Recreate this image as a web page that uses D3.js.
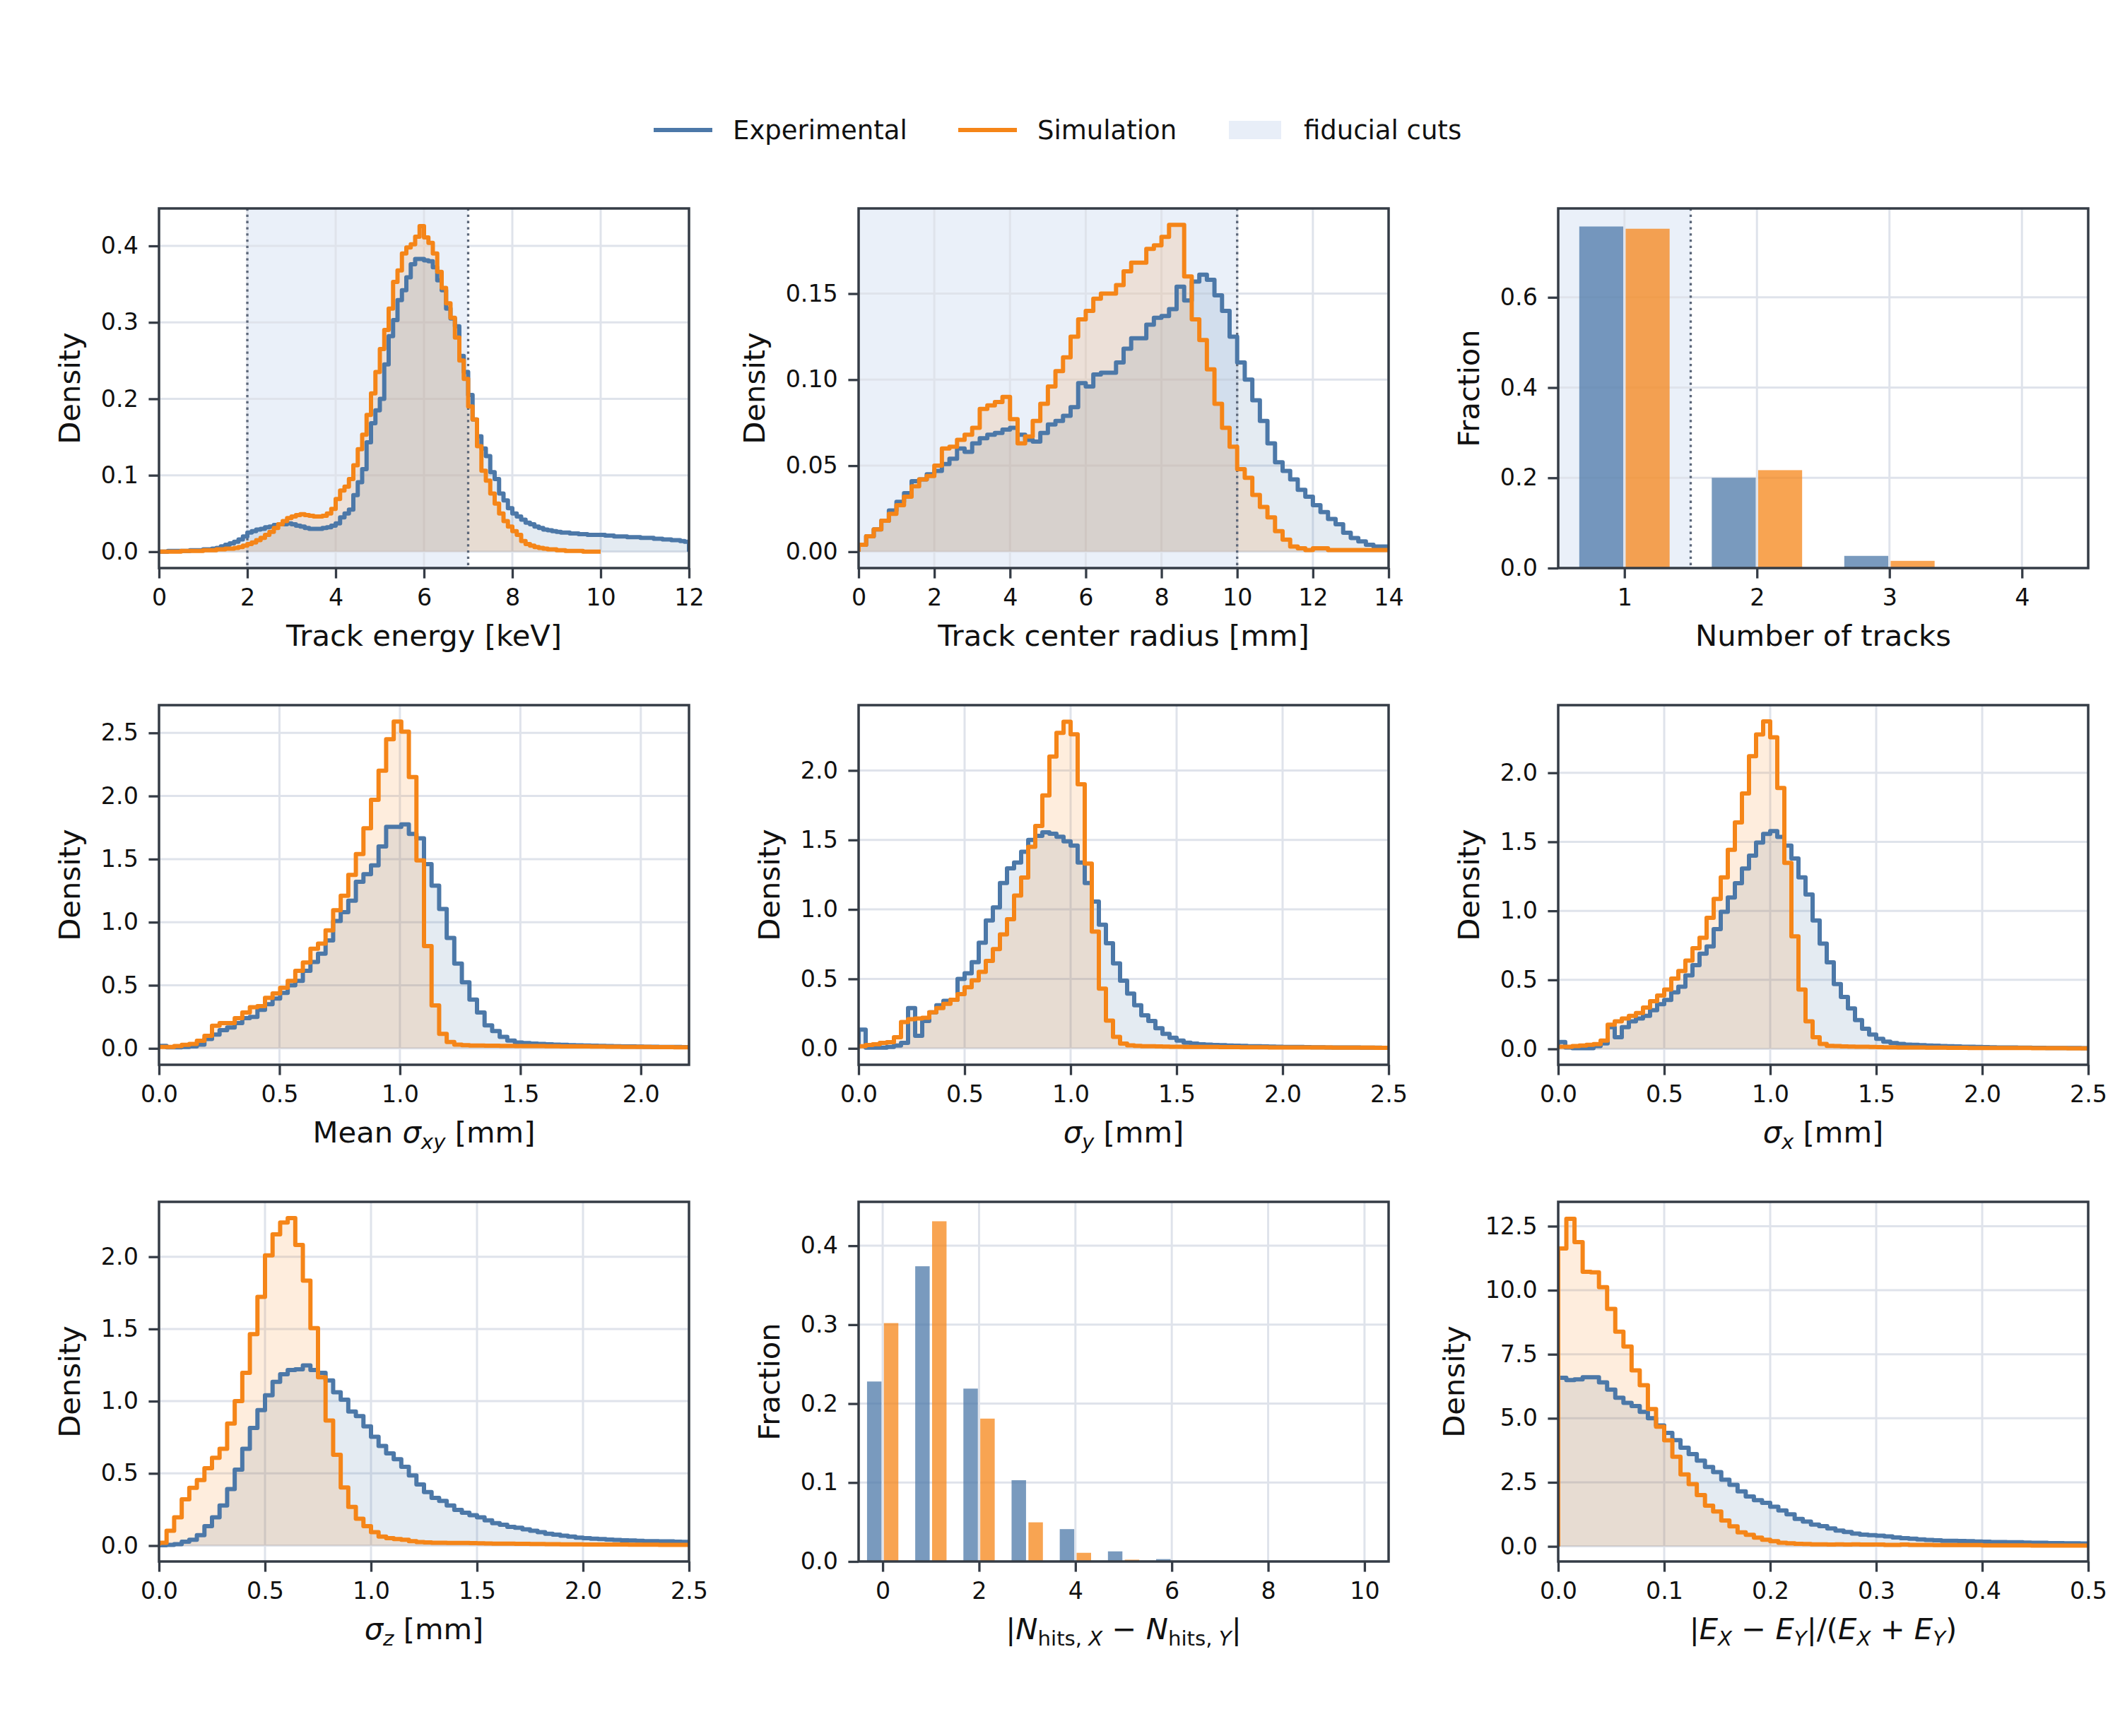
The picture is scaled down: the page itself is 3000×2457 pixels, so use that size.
<!DOCTYPE html>
<html><head><meta charset="utf-8">
<script src="https://cdn.jsdelivr.net/npm/d3@7"></script>
<style>body{margin:0;background:#fff}text{font-family:"DejaVu Sans",sans-serif}</style>
</head><body><script>
// ---------------- DATA ----------------
const seriesNames = ["Experimental", "Simulation", "fiducial cuts"];

// Panel 1: Track energy [keV]
const energyTicksX = [0,2,4,6,8,10,12];
const energyTicksY = [0,0.1,0.2,0.3,0.4];
const energyExp = [
0.000,0.000,0.001,0.001,0.001,0.001,0.001,0.002,0.002,0.002,
0.003,0.003,0.004,0.005,0.007,0.009,0.011,0.013,0.016,0.020,
0.025,0.027,0.029,0.030,0.032,0.033,0.035,0.036,0.036,0.037,
0.036,0.034,0.033,0.031,0.030,0.030,0.030,0.031,0.032,0.034,
0.037,0.045,0.050,0.055,0.074,0.091,0.108,0.143,0.168,0.185,
0.200,0.245,0.282,0.303,0.329,0.342,0.359,0.376,0.383,0.383,
0.381,0.380,0.372,0.355,0.342,0.318,0.305,0.295,0.256,0.235,
0.205,0.173,0.151,0.135,0.125,0.104,0.095,0.076,0.067,0.057,
0.050,0.046,0.042,0.038,0.036,0.033,0.031,0.029,0.028,0.027,
0.026,0.025,0.025,0.024,0.024,0.023,0.023,0.022,0.022,0.022,
0.022,0.021,0.021,0.020,0.020,0.020,0.019,0.019,0.019,0.018,
0.018,0.018,0.017,0.017,0.016,0.016,0.015,0.015,0.014,0.013];
const energySim = [
0.000,0.000,0.000,0.000,0.000,0.001,0.001,0.001,0.001,0.001,
0.002,0.002,0.002,0.003,0.003,0.004,0.004,0.005,0.006,0.008,
0.010,0.012,0.015,0.018,0.022,0.026,0.031,0.036,0.040,0.044,
0.046,0.048,0.049,0.048,0.047,0.046,0.046,0.047,0.050,0.056,
0.069,0.080,0.085,0.095,0.113,0.134,0.153,0.179,0.207,0.235,
0.265,0.290,0.318,0.353,0.368,0.390,0.398,0.402,0.412,0.426,
0.411,0.404,0.390,0.366,0.345,0.325,0.306,0.280,0.250,0.226,
0.190,0.173,0.138,0.106,0.093,0.076,0.063,0.050,0.040,0.033,
0.027,0.022,0.014,0.010,0.008,0.006,0.005,0.004,0.003,0.003,
0.002,0.002,0.001,0.001,0.001,0.001,0.000,0.000,0.000,0.000];

// Panel 2: Track center radius [mm]
const radiusTicksX = [0,2,4,6,8,10,12,14];
const radiusTicksY = [0,0.05,0.10,0.15];
const radiusExp = [
0.004,0.009,0.013,0.018,0.024,0.029,0.034,0.041,0.042,0.045,
0.047,0.051,0.054,0.060,0.058,0.063,0.066,0.068,0.069,0.071,
0.072,0.068,0.065,0.064,0.069,0.074,0.076,0.079,0.084,0.098,
0.096,0.103,0.104,0.104,0.110,0.118,0.124,0.124,0.132,0.136,
0.137,0.141,0.154,0.146,0.157,0.161,0.158,0.149,0.140,0.125,
0.110,0.100,0.088,0.076,0.063,0.052,0.047,0.042,0.036,0.032,
0.027,0.023,0.019,0.016,0.011,0.008,0.006,0.004,0.003,0.003];
const radiusSim = [
0.004,0.009,0.013,0.018,0.022,0.027,0.032,0.038,0.042,0.044,
0.050,0.060,0.061,0.065,0.068,0.072,0.083,0.085,0.087,0.090,
0.077,0.063,0.067,0.076,0.086,0.096,0.105,0.113,0.125,0.135,
0.140,0.147,0.150,0.150,0.155,0.163,0.168,0.168,0.176,0.178,
0.183,0.190,0.190,0.160,0.135,0.123,0.106,0.086,0.072,0.061,
0.048,0.043,0.033,0.026,0.020,0.012,0.007,0.003,0.002,0.001,
0.002,0.002,0.001,0.001,0.001,0.001,0.001,0.001,0.001,0.001];

// Panel 3: Number of tracks
const nTracksCats = [1,2,3,4];
const nTracksTicksY = [0,0.2,0.4,0.6];
const nTracksExp = [0.757,0.200,0.027,0.001];
const nTracksSim = [0.752,0.217,0.016,0.0005];

// Panel 4: Mean sigma_xy [mm]
const sigxyTicksX = [0,0.5,1.0,1.5,2.0];
const sigxyTicksY = [0,0.5,1.0,1.5,2.0,2.5];
const sigxyExp = [
0.020,0.008,0.008,0.012,0.016,0.030,0.075,0.110,0.145,0.165,
0.200,0.240,0.250,0.305,0.350,0.395,0.440,0.500,0.535,0.615,
0.685,0.750,0.855,1.010,1.080,1.170,1.320,1.380,1.450,1.600,
1.755,1.755,1.775,1.700,1.665,1.460,1.290,1.105,0.875,0.672,
0.524,0.387,0.285,0.182,0.137,0.091,0.062,0.046,0.042,0.038,
0.035,0.032,0.030,0.028,0.026,0.024,0.022,0.021,0.020,0.018,
0.017,0.016,0.015,0.014,0.013,0.013,0.012,0.011,0.011,0.010];
const sigxySim = [
0.012,0.012,0.018,0.028,0.035,0.060,0.100,0.180,0.200,0.200,
0.240,0.285,0.326,0.335,0.400,0.435,0.480,0.535,0.615,0.680,
0.790,0.830,0.935,1.095,1.210,1.375,1.540,1.745,1.970,2.200,
2.450,2.590,2.510,2.150,1.490,0.810,0.340,0.115,0.050,0.030,
0.025,0.022,0.022,0.021,0.021,0.020,0.020,0.019,0.019,0.018,
0.018,0.017,0.017,0.016,0.016,0.015,0.015,0.014,0.014,0.013,
0.013,0.012,0.012,0.011,0.011,0.010,0.010,0.010,0.009,0.009];

// Panel 5: sigma_y [mm]
const sigTicksX = [0,0.5,1.0,1.5,2.0,2.5];
const sigTicksY = [0,0.5,1.0,1.5,2.0];
const sigyExp = [
0.135,0.005,0.005,0.005,0.010,0.020,0.040,0.290,0.090,0.197,
0.260,0.310,0.342,0.350,0.500,0.540,0.620,0.760,0.920,1.015,
1.190,1.295,1.337,1.415,1.500,1.530,1.555,1.544,1.523,1.490,
1.460,1.337,1.190,1.057,0.890,0.756,0.611,0.487,0.394,0.310,
0.238,0.197,0.145,0.104,0.077,0.056,0.041,0.035,0.030,0.027,
0.025,0.023,0.021,0.019,0.018,0.016,0.015,0.014,0.013,0.012,
0.011,0.010,0.010,0.009,0.008,0.008,0.007,0.007,0.006,0.006,
0.006,0.005,0.005,0.005,0.004];
const sigySim = [
0.015,0.025,0.030,0.040,0.045,0.080,0.190,0.210,0.215,0.220,
0.260,0.290,0.320,0.350,0.390,0.440,0.490,0.550,0.630,0.715,
0.820,0.930,1.100,1.230,1.450,1.600,1.820,2.100,2.270,2.350,
2.260,1.900,1.330,0.840,0.430,0.200,0.083,0.035,0.022,0.018,
0.016,0.015,0.014,0.013,0.012,0.012,0.011,0.011,0.010,0.010,
0.010,0.009,0.009,0.009,0.008,0.008,0.008,0.008,0.007,0.007,
0.007,0.007,0.006,0.006,0.006,0.006,0.006,0.005,0.005,0.005,
0.005,0.005,0.005,0.004,0.004];

// Panel 6: sigma_x [mm]
const sigxExp = [
0.050,0.010,0.005,0.005,0.005,0.020,0.040,0.157,0.084,0.157,
0.200,0.220,0.240,0.280,0.324,0.355,0.410,0.450,0.533,0.606,
0.690,0.742,0.867,0.993,1.097,1.200,1.306,1.400,1.494,1.557,
1.578,1.536,1.473,1.380,1.243,1.118,0.930,0.763,0.627,0.470,
0.376,0.293,0.209,0.146,0.104,0.073,0.052,0.042,0.036,0.031,
0.029,0.027,0.025,0.023,0.021,0.019,0.018,0.016,0.015,0.014,
0.013,0.012,0.011,0.010,0.010,0.009,0.009,0.008,0.008,0.007,
0.007,0.006,0.006,0.006,0.005];
const sigxSim = [
0.015,0.015,0.020,0.025,0.030,0.035,0.060,0.175,0.200,0.220,
0.240,0.260,0.300,0.345,0.387,0.430,0.510,0.565,0.640,0.730,
0.805,0.950,1.087,1.243,1.442,1.640,1.850,2.120,2.278,2.372,
2.257,1.890,1.348,0.815,0.430,0.200,0.084,0.036,0.022,0.020,
0.018,0.017,0.016,0.015,0.014,0.013,0.012,0.012,0.011,0.011,
0.010,0.010,0.009,0.009,0.009,0.008,0.008,0.008,0.007,0.007,
0.007,0.007,0.006,0.006,0.006,0.006,0.006,0.005,0.005,0.005,
0.005,0.005,0.004,0.004,0.004];

// Panel 7: sigma_z [mm]
const sigzExp = [
0.003,0.005,0.010,0.027,0.041,0.072,0.134,0.196,0.278,0.392,
0.526,0.670,0.814,0.938,1.041,1.134,1.186,1.216,1.220,1.247,
1.216,1.196,1.144,1.062,1.010,0.928,0.897,0.825,0.753,0.690,
0.639,0.598,0.546,0.485,0.423,0.371,0.330,0.309,0.278,0.247,
0.227,0.210,0.196,0.175,0.155,0.144,0.130,0.124,0.113,0.103,
0.093,0.082,0.076,0.068,0.062,0.055,0.052,0.048,0.045,0.042,
0.039,0.037,0.035,0.033,0.031,0.031,0.030,0.029,0.027,0.026];
const sigzSim = [
0.020,0.103,0.196,0.320,0.400,0.454,0.536,0.608,0.670,0.845,
1.000,1.196,1.464,1.722,2.010,2.155,2.237,2.268,2.082,1.835,
1.505,1.165,0.866,0.629,0.402,0.268,0.186,0.134,0.093,0.062,
0.052,0.045,0.040,0.031,0.025,0.022,0.020,0.020,0.019,0.018,
0.018,0.017,0.016,0.015,0.014,0.014,0.013,0.012,0.012,0.011,
0.011,0.010,0.010,0.009,0.009,0.009,0.008,0.008,0.008,0.007,
0.007,0.007,0.006,0.006,0.006,0.006,0.005,0.005,0.005,0.005];

// Panel 8: |N_hits,X - N_hits,Y|
const nhitsCats = [0,1,2,3,4,5,6,7,8,9,10];
const nhitsTicksX = [0,2,4,6,8,10];
const nhitsTicksY = [0,0.1,0.2,0.3,0.4];
const nhitsExp = [0.228,0.374,0.219,0.103,0.041,0.0128,0.003,0.001,0.0003,0,0];
const nhitsSim = [0.302,0.431,0.181,0.0496,0.011,0.0023,0.0003,0,0,0,0];

// Panel 9: |E_X - E_Y|/(E_X + E_Y)
const asymTicksX = [0,0.1,0.2,0.3,0.4,0.5];
const asymTicksY = [0,2.5,5.0,7.5,10.0,12.5];
const asymExp = [
6.58,6.49,6.52,6.60,6.60,6.40,6.12,5.80,5.60,5.48,
5.25,5.00,4.72,4.43,4.15,3.85,3.60,3.35,3.10,2.90,
2.60,2.40,2.15,1.95,1.80,1.70,1.55,1.40,1.25,1.07,
0.97,0.85,0.79,0.70,0.62,0.56,0.50,0.46,0.44,0.42,
0.39,0.35,0.32,0.30,0.27,0.25,0.24,0.22,0.22,0.21,
0.20,0.19,0.18,0.17,0.17,0.16,0.16,0.15,0.14,0.14,
0.13,0.13,0.12,0.12,0.11];
const asymSim = [
11.63,12.79,11.88,10.72,10.70,10.12,9.27,8.38,7.80,6.87,
6.29,5.36,4.67,4.14,3.50,2.81,2.43,2.00,1.59,1.36,
1.01,0.78,0.55,0.45,0.34,0.26,0.20,0.14,0.12,0.10,
0.09,0.08,0.08,0.07,0.08,0.07,0.08,0.07,0.07,0.07,
0.06,0.06,0.07,0.06,0.06,0.06,0.05,0.05,0.05,0.05,
0.05,0.05,0.04,0.04,0.04,0.04,0.04,0.04,0.03,0.03,
0.03,0.03,0.03,0.03,0.03];

// ---------------- DRAWING ----------------
const W = 3000, H = 2457;
const COL_EXP = '#4c78a8', COL_SIM = '#f58518';
const BAND = '#eaf0f9', GRID = '#dfe3eb', FRAME = '#353c46';
const colsX = [225, 1215, 2205], rowsY = [295, 998, 1701], PW = 750, PH = 509;
const TICK_FS = 33.3, LABEL_FS = 41.7;

const svg = d3.select('body').append('svg').attr('width', W).attr('height', H);
svg.append('rect').attr('width', W).attr('height', H).attr('fill', '#fff');

let clipN = 0;

function addRichText(sel, parts) {
  let shifted = false;
  parts.forEach(p => {
    const [t, it, sub] = p;
    const ts = sel.append('tspan').text(t);
    if (it) ts.attr('font-style', 'italic');
    if (sub && !shifted) { ts.attr('dy', 9).attr('font-size', LABEL_FS * 0.7); shifted = true; }
    else if (sub) { ts.attr('font-size', LABEL_FS * 0.7); }
    else if (!sub && shifted) { ts.attr('dy', -9); shifted = false; }
  });
}

function panel(cfg) {
  const g = svg.append('g').attr('transform', `translate(${colsX[cfg.col]},${rowsY[cfg.row]})`);
  const x = d3.scaleLinear().domain(cfg.xDomain).range([0, PW]);
  const y = d3.scaleLinear().domain(cfg.yDomain).range([PH, 0]);
  const id = 'clip' + (clipN++);
  g.append('clipPath').attr('id', id).append('rect').attr('width', PW).attr('height', PH);
  const plot = g.append('g').attr('clip-path', `url(#${id})`);

  if (cfg.band) plot.append('rect').attr('x', x(cfg.band[0])).attr('width', x(cfg.band[1]) - x(cfg.band[0]))
      .attr('y', 0).attr('height', PH).attr('fill', BAND);

  plot.selectAll('line.gx').data(cfg.xTicks).join('line').attr('class', 'gx')
    .attr('x1', d => x(d)).attr('x2', d => x(d)).attr('y1', 0).attr('y2', PH)
    .attr('stroke', GRID).attr('stroke-width', 3);
  plot.selectAll('line.gy').data(cfg.yTicks).join('line').attr('class', 'gy')
    .attr('y1', d => y(d)).attr('y2', d => y(d)).attr('x1', 0).attr('x2', PW)
    .attr('stroke', GRID).attr('stroke-width', 3);

  const vl = () => {
    (cfg.vlines || []).forEach(v => {
      plot.append('line').attr('x1', x(v)).attr('x2', x(v)).attr('y1', 0).attr('y2', PH)
        .attr('stroke', '#5c6779').attr('stroke-width', 3.3).attr('stroke-dasharray', '3.3,5.5');
    });
  };

  if (cfg.type === 'hist') {
    const pts = (s) => {
      const p = [[s.start, 0]];
      s.values.forEach((v, i) => p.push([s.start + i * s.width, v]));
      const end = s.start + s.values.length * s.width;
      p.push([end, s.values[s.values.length - 1]]);
      p.push([end, 0]);
      return p;
    };
    const area = d3.area().x(d => x(d[0])).y0(y(0)).y1(d => y(d[1])).curve(d3.curveStepAfter);
    const line = d3.line().x(d => x(d[0])).y(d => y(d[1])).curve(d3.curveStepAfter);
    const pe = pts(cfg.exp), ps = pts(cfg.sim);
    plot.append('path').attr('d', area(pe)).attr('fill', COL_EXP).attr('fill-opacity', 0.15);
    plot.append('path').attr('d', area(ps)).attr('fill', COL_SIM).attr('fill-opacity', 0.15);
    vl();
    plot.append('path').attr('d', line(pe)).attr('fill', 'none').attr('stroke', COL_EXP)
      .attr('stroke-width', 6).attr('stroke-linejoin', 'round');
    plot.append('path').attr('d', line(ps)).attr('fill', 'none').attr('stroke', COL_SIM)
      .attr('stroke-width', 6).attr('stroke-linejoin', 'round');
  } else {
    const bw = 0.35, inset = 1.7;
    const bar = (cls, vals, off, col) => {
      plot.selectAll('rect.' + cls).data(cfg.cats.map((c, i) => [c, vals[i]])).join('rect').attr('class', cls)
        .attr('x', d => x(d[0] + off) + inset).attr('width', x(bw) - x(0) - 2 * inset)
        .attr('y', d => y(d[1])).attr('height', d => y(0) - y(d[1]))
        .attr('fill', col).attr('fill-opacity', 0.75);
    };
    bar('be', cfg.exp, -bw, COL_EXP);
    bar('bs', cfg.sim, 0, COL_SIM);
    vl();
  }

  const xa = g.append('g').attr('transform', `translate(0,${PH})`)
    .call(d3.axisBottom(x).tickValues(cfg.xTicks).tickFormat(cfg.xFmt).tickSize(14.6).tickPadding(14.6));
  const ya = g.append('g')
    .call(d3.axisLeft(y).tickValues(cfg.yTicks).tickFormat(cfg.yFmt).tickSize(14.6).tickPadding(14.6));
  [xa, ya].forEach(a => {
    a.select('.domain').remove();
    a.selectAll('line').attr('stroke', FRAME).attr('stroke-width', 3.3);
    a.selectAll('text').attr('font-size', TICK_FS).attr('fill', '#111').attr('font-family', '"DejaVu Sans"');
  });

  g.append('rect').attr('width', PW).attr('height', PH).attr('fill', 'none')
    .attr('stroke', FRAME).attr('stroke-width', 3.5);

  const xl = g.append('text').attr('x', PW / 2).attr('y', PH + 110).attr('text-anchor', 'middle')
    .attr('font-size', LABEL_FS).attr('fill', '#111');
  addRichText(xl, cfg.xlabel);
  const bb = ya.node().getBBox();
  g.append('text').attr('transform', `translate(${bb.x - 30},${PH / 2}) rotate(-90)`)
    .attr('text-anchor', 'middle').attr('font-size', LABEL_FS).attr('fill', '#111').text(cfg.ylabel);
}

const f1 = d3.format('.1f'), f2 = d3.format('.2f'), fd = d3.format('d');

panel({type: 'hist', col: 0, row: 0, xDomain: [0, 12], yDomain: [-0.0214, 0.449],
  xTicks: energyTicksX, yTicks: energyTicksY, xFmt: fd, yFmt: f1,
  exp: {start: 0, width: 0.1, values: energyExp}, sim: {start: 0, width: 0.1, values: energySim},
  band: [2, 7], vlines: [2, 7], xlabel: [['Track energy [keV]']], ylabel: 'Density'});

panel({type: 'hist', col: 1, row: 0, xDomain: [0, 14], yDomain: [-0.0095, 0.1995],
  xTicks: radiusTicksX, yTicks: radiusTicksY, xFmt: fd, yFmt: f2,
  exp: {start: 0, width: 0.2, values: radiusExp}, sim: {start: 0, width: 0.2, values: radiusSim},
  band: [0, 10], vlines: [10], xlabel: [['Track center radius [mm]']], ylabel: 'Density'});

panel({type: 'bar', col: 2, row: 0, xDomain: [0.5, 4.5], yDomain: [0, 0.797],
  xTicks: nTracksCats, yTicks: nTracksTicksY, xFmt: fd, yFmt: f1,
  cats: nTracksCats, exp: nTracksExp, sim: nTracksSim,
  band: [0.5, 1.5], vlines: [1.5], xlabel: [['Number of tracks']], ylabel: 'Fraction'});

panel({type: 'hist', col: 0, row: 1, xDomain: [0, 2.2], yDomain: [-0.13, 2.72],
  xTicks: sigxyTicksX, yTicks: sigxyTicksY, xFmt: f1, yFmt: f1,
  exp: {start: 0, width: 2.2 / 70, values: sigxyExp}, sim: {start: 0, width: 2.2 / 70, values: sigxySim},
  xlabel: [['Mean '], ['σ', true], ['xy', true, true], [' [mm]']], ylabel: 'Density'});

panel({type: 'hist', col: 1, row: 1, xDomain: [0, 2.5], yDomain: [-0.118, 2.47],
  xTicks: sigTicksX, yTicks: sigTicksY, xFmt: f1, yFmt: f1,
  exp: {start: 0, width: 1 / 30, values: sigyExp}, sim: {start: 0, width: 1 / 30, values: sigySim},
  xlabel: [['σ', true], ['y', true, true], [' [mm]']], ylabel: 'Density'});

panel({type: 'hist', col: 2, row: 1, xDomain: [0, 2.5], yDomain: [-0.115, 2.49],
  xTicks: sigTicksX, yTicks: sigTicksY, xFmt: f1, yFmt: f1,
  exp: {start: 0, width: 1 / 30, values: sigxExp}, sim: {start: 0, width: 1 / 30, values: sigxSim},
  xlabel: [['σ', true], ['x', true, true], [' [mm]']], ylabel: 'Density'});

panel({type: 'hist', col: 0, row: 2, xDomain: [0, 2.5], yDomain: [-0.11, 2.38],
  xTicks: sigTicksX, yTicks: sigTicksY, xFmt: f1, yFmt: f1,
  exp: {start: 0, width: 2.5 / 70, values: sigzExp}, sim: {start: 0, width: 2.5 / 70, values: sigzSim},
  xlabel: [['σ', true], ['z', true, true], [' [mm]']], ylabel: 'Density'});

panel({type: 'bar', col: 1, row: 2, xDomain: [-0.5, 10.5], yDomain: [0, 0.4556],
  xTicks: nhitsTicksX, yTicks: nhitsTicksY, xFmt: fd, yFmt: f1,
  cats: nhitsCats, exp: nhitsExp, sim: nhitsSim,
  xlabel: [['|'], ['N', true], ['hits, ', false, true], ['X', true, true], [' − '], ['N', true], ['hits, ', false, true], ['Y', true, true], ['|']],
  ylabel: 'Fraction'});

panel({type: 'hist', col: 2, row: 2, xDomain: [0, 0.5], yDomain: [-0.59, 13.45],
  xTicks: asymTicksX, yTicks: asymTicksY, xFmt: f1, yFmt: f1,
  exp: {start: 0, width: 0.5 / 65, values: asymExp}, sim: {start: 0, width: 0.5 / 65, values: asymSim},
  xlabel: [['|'], ['E', true], ['X', true, true], [' − '], ['E', true], ['Y', true, true], ['|/('], ['E', true], ['X', true, true], [' + '], ['E', true], ['Y', true, true], [')']],
  ylabel: 'Density'});

// legend
const lg = svg.append('g').attr('font-size', 37);
const legItems = [
  {name: seriesNames[0], kind: 'line', color: COL_EXP, x: 925},
  {name: seriesNames[1], kind: 'line', color: COL_SIM, x: 1356},
  {name: seriesNames[2], kind: 'patch', color: '#e8eef8', x: 1739}
];
const LY = 184;
legItems.forEach(it => {
  if (it.kind === 'line') {
    lg.append('line').attr('x1', it.x).attr('x2', it.x + 83).attr('y1', LY).attr('y2', LY)
      .attr('stroke', it.color).attr('stroke-width', 6);
  } else {
    lg.append('rect').attr('x', it.x).attr('y', LY - 13).attr('width', 74).attr('height', 26).attr('fill', it.color);
  }
  lg.append('text').attr('x', it.x + (it.kind === 'line' ? 112 : 106)).attr('y', LY).attr('dy', '0.35em')
    .attr('fill', '#111').text(it.name);
});
</script></body></html>
